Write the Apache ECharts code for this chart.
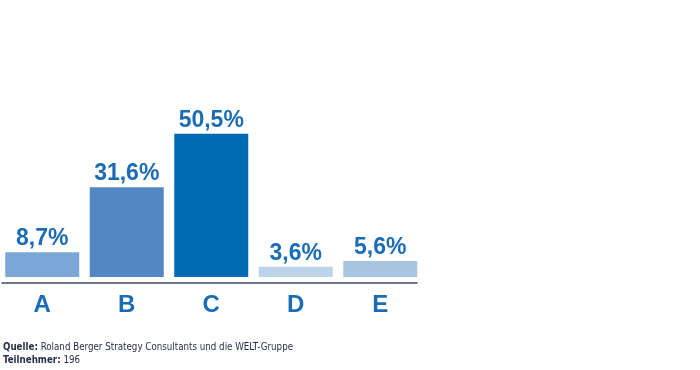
<!DOCTYPE html>
<html>
<head>
<meta charset="utf-8">
<script src="https://cdn.jsdelivr.net/npm/echarts@6/dist/echarts.min.js"></script>
<style>
html,body{margin:0;padding:0;background:#fff;}
#main{width:700px;height:370px;}
</style>
</head>
<body>
<div id="main"></div>
<script>
const categories = ['A', 'B', 'C', 'D', 'E'];
const values = [8.7, 31.6, 50.5, 3.6, 5.6];
const barColors = ['#7ba7d6', '#5287c4', '#006bb4', '#bcd3ea', '#a8c4e2'];
const sourceLabel = 'Quelle';
const sourceText = 'Roland Berger Strategy Consultants und die WELT-Gruppe';
const participantsLabel = 'Teilnehmer';
const participantsText = '196';

const FONT = '"Liberation Sans", Arial, sans-serif';
const FOOT_FONT = '"DejaVu Sans Condensed", "Liberation Sans", sans-serif';
const BLUE = '#1a6db5';
const chart = echarts.init(document.getElementById('main'), null, {renderer: 'canvas'});
chart.setOption({
  animation: false,
  backgroundColor: '#ffffff',
  grid: [
    {left: -2.5, width: 425, top: 106.7, bottom: 93},
    {left: 2, width: 415, top: 282, height: 1}
  ],
  xAxis: [
    {
      type: 'category', gridIndex: 0, data: categories, offset: 6,
      axisLine: {show: false}, axisTick: {show: false},
      axisLabel: {color: BLUE, fontFamily: FONT, fontWeight: 'bold', fontSize: 24, margin: 10}
    },
    {
      type: 'value', gridIndex: 1, min: 0, max: 1,
      axisLine: {show: true, lineStyle: {color: '#3b4763', width: 1.5}},
      axisTick: {show: false}, axisLabel: {show: false}, splitLine: {show: false}
    }
  ],
  yAxis: [
    {type: 'value', gridIndex: 0, min: 0, max: 60, show: false, splitLine: {show: false}},
    {type: 'value', gridIndex: 1, min: 0, max: 1, show: false, splitLine: {show: false}}
  ],
  series: [{
    type: 'bar', xAxisIndex: 0, yAxisIndex: 0,
    barWidth: 74,
    data: values.map((v, i) => ({value: v, itemStyle: {color: barColors[i]}})),
    label: {
      show: true, position: 'top', distance: 2,
      color: BLUE, fontFamily: FONT, fontWeight: 'bold', fontSize: 23,
      formatter: p => String(p.value).replace('.', ',') + '%'
    }
  }],
  graphic: [{
    type: 'text', left: 3, top: 341,
    style: {
      text: '{b|' + sourceLabel + ':} ' + sourceText + '\n{b|' + participantsLabel + ':} ' + participantsText,
      fill: '#26304a', font: '9.7px ' + FOOT_FONT, lineHeight: 13,
      rich: {b: {fontWeight: 'bold', fontFamily: FOOT_FONT, fontSize: 9.7, fill: '#26304a', lineHeight: 13}}
    }
  }]
});
</script>
</body>
</html>
